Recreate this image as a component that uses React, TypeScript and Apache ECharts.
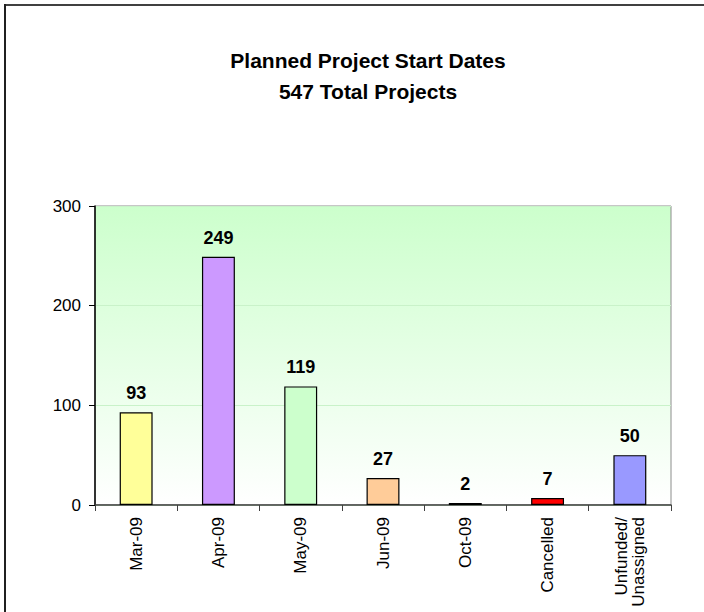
import React, { useEffect, useRef } from "react";
import * as echarts from "echarts";

const categories = ["Mar-09", "Apr-09", "May-09", "Jun-09", "Oct-09", "Cancelled", "Unfunded/\nUnassigned"];
const values = [93, 249, 119, 27, 2, 7, 50];
const barColors = ["#ffff99", "#cc99ff", "#ccffcc", "#ffcc99", "#000000", "#ff0000", "#9999ff"];
const titleLines = ["Planned Project Start Dates", "547 Total Projects"];
const yTicks = { min: 0, max: 300, interval: 100 };

export default function App() {
  const ref = useRef<HTMLDivElement>(null);
  useEffect(() => {
    document.body.style.margin = "0";
    const chart = echarts.init(ref.current!, null, { renderer: "svg" });
    const font = "'Liberation Sans', Arial, sans-serif";
    chart.setOption({
      animation: false,
      backgroundColor: "#ffffff",
      title: {
        text: titleLines.join("\n"),
        left: 363,
        top: 40,
        textAlign: "center",
        textStyle: { fontFamily: font, fontSize: 21, fontWeight: "bold", color: "#000", lineHeight: 31 },
      },
      graphic: [
        { type: "line", shape: { x1: 4, y1: 5, x2: 704, y2: 5 }, style: { stroke: "#404040", lineWidth: 2 } },
        { type: "line", shape: { x1: 5, y1: 4, x2: 5, y2: 612 }, style: { stroke: "#202020", lineWidth: 2 } },
      ],
      grid: {
        left: 95,
        right: 33,
        top: 206,
        bottom: 107,
        show: true,
        borderColor: "#8c8c8c",
        borderWidth: 1,
        backgroundColor: new echarts.graphic.LinearGradient(0, 0, 0, 1, [
          { offset: 0, color: "#ccffcc" },
          { offset: 1, color: "#ffffff" },
        ]),
      },
      xAxis: {
        type: "category",
        data: categories,
        axisLine: { lineStyle: { color: "#404040", width: 1.5 } },
        axisTick: { show: true, length: 6, lineStyle: { color: "#404040" } },
        axisLabel: {
          rotate: 90,
          margin: 12,
          interval: 0,
          fontFamily: font,
          fontSize: 17,
          color: "#000",
          lineHeight: 17,
        },
      },
      yAxis: {
        type: "value",
        min: yTicks.min,
        max: yTicks.max,
        interval: yTicks.interval,
        axisLine: { show: true, lineStyle: { color: "#000", width: 1.5 } },
        axisTick: { show: true, length: 6, lineStyle: { color: "#000" } },
        axisLabel: { fontFamily: font, fontSize: 17, color: "#000", margin: 14 },
        splitLine: { show: true, lineStyle: { color: "#c9f2c9", width: 1 } },
      },
      series: [
        {
          type: "bar",
          barWidth: "40%",
          data: values.map((v, i) => ({
            value: v,
            itemStyle: { color: barColors[i], borderColor: "#000", borderWidth: 1.2 },
          })),
          label: {
            show: true,
            position: "top",
            distance: 10,
            fontFamily: font,
            fontSize: 18,
            fontWeight: "bold",
            color: "#000",
          },
        },
      ],
    });
    return () => chart.dispose();
  }, []);
  return <div ref={ref} style={{ width: 704, height: 612 }} />;
}
